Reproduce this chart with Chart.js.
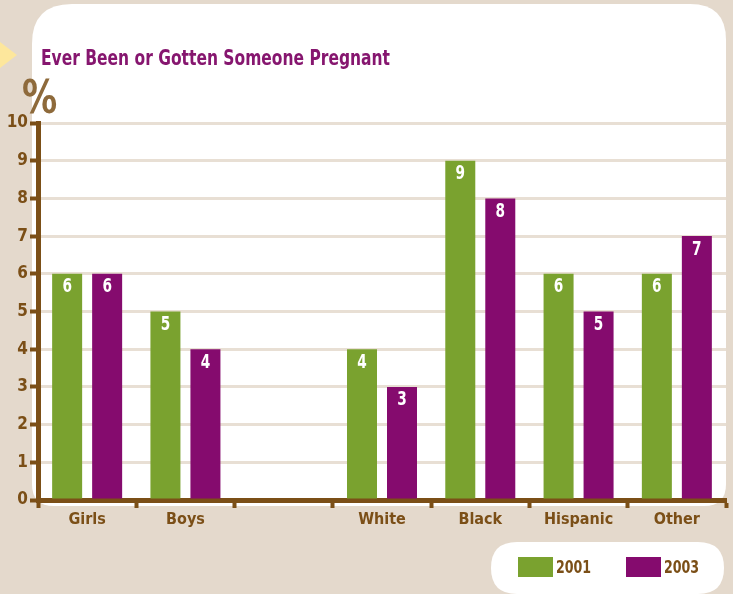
<!DOCTYPE html>
<html>
<head>
<meta charset="utf-8">
<script src="https://cdn.jsdelivr.net/npm/chart.js@4/dist/chart.umd.min.js"></script>
<style>
  html, body { margin: 0; padding: 0; background: #e4d9cc; }
  #wrap { width: 733px; height: 594px; position: relative; }
</style>
</head>
<body>
<div id="wrap"><canvas id="c" width="733" height="594"></canvas></div>
<script>
// Survey groups and percentages for each year
const categories = ['Girls', 'Boys', '', 'White', 'Black', 'Hispanic', 'Other'];
const values2001 = [6, 5, null, 4, 9, 6, 6];
const values2003 = [6, 4, null, 3, 8, 5, 7];
const seriesLabels = ['2001', '2003'];
const titleText = 'Ever Been or Gotten Someone Pregnant';
const unitText = '%';

const FONT = '"DejaVu Sans Condensed", "DejaVu Sans", sans-serif';
const BROWN = '#7b4f17';
const GREEN = '#7aa22f';
const PURPLE = '#850b6e';
const BEIGE = '#e4d9cc';
const GRID = '#e8dfd4';

function roundRect(ctx, x, y, w, h, r) {
  ctx.beginPath();
  ctx.moveTo(x + r.tl, y);
  ctx.lineTo(x + w - r.tr, y);
  ctx.quadraticCurveTo(x + w, y, x + w, y + r.tr);
  ctx.lineTo(x + w, y + h - r.br);
  ctx.quadraticCurveTo(x + w, y + h, x + w - r.br, y + h);
  ctx.lineTo(x + r.bl, y + h);
  ctx.quadraticCurveTo(x, y + h, x, y + h - r.bl);
  ctx.lineTo(x, y + r.tl);
  ctx.quadraticCurveTo(x, y, x + r.tl, y);
  ctx.closePath();
}

// Text drawn horizontally squeezed, to get a narrow display face
function narrowText(ctx, text, x, y, squeeze, align) {
  ctx.save();
  ctx.translate(x, y);
  ctx.scale(squeeze, 1);
  ctx.textAlign = align || 'left';
  ctx.fillText(text, 0, 0);
  ctx.restore();
}

// Page decoration: beige backdrop, white card, marker arrow, title and unit
const backdrop = {
  id: 'backdrop',
  beforeDraw(chart) {
    const ctx = chart.ctx;
    ctx.save();
    ctx.fillStyle = BEIGE;
    ctx.fillRect(0, 0, chart.width, chart.height);
    ctx.fillStyle = '#ffffff';
    roundRect(ctx, 32, 4, 694, 502, { tl: 40, tr: 36, br: 22, bl: 22 });
    ctx.fill();
    // marker arrow
    ctx.fillStyle = '#fde79c';
    ctx.beginPath();
    ctx.moveTo(0, 42);
    ctx.lineTo(17, 55);
    ctx.lineTo(0, 68);
    ctx.closePath();
    ctx.fill();
    // title
    ctx.fillStyle = '#86166f';
    ctx.font = 'bold 22px ' + FONT;
    ctx.textBaseline = 'alphabetic';
    const tw = ctx.measureText(titleText).width;
    narrowText(ctx, titleText, 41, 65, 349 / tw);
    // unit
    ctx.fillStyle = '#8e6a3b';
    ctx.font = 'bold 46px ' + FONT;
    narrowText(ctx, unitText, 22, 113, 0.85);
    ctx.restore();
  }
};

// White value labels near the top of each bar
const barValues = {
  id: 'barValues',
  afterDatasetsDraw(chart) {
    const ctx = chart.ctx;
    ctx.save();
    ctx.fillStyle = '#ffffff';
    ctx.font = 'bold 19px ' + FONT;
    ctx.textBaseline = 'top';
    chart.data.datasets.forEach((ds, i) => {
      chart.getDatasetMeta(i).data.forEach((bar, j) => {
        const v = ds.data[j];
        if (v === null || v === undefined) return;
        narrowText(ctx, String(v), bar.x, bar.y + 4, 0.8, 'center');
      });
    });
    ctx.restore();
  }
};

// Legend inside a white pill below the chart
const pillLegend = {
  id: 'pillLegend',
  afterDraw(chart) {
    const ctx = chart.ctx;
    ctx.save();
    ctx.fillStyle = '#ffffff';
    roundRect(ctx, 491, 542, 233, 52, { tl: 26, tr: 26, br: 26, bl: 26 });
    ctx.fill();
    ctx.font = 'bold 18px ' + FONT;
    ctx.textBaseline = 'middle';
    const starts = [518, 626];
    chart.data.datasets.forEach((ds, i) => {
      const x = starts[i];
      ctx.fillStyle = ds.backgroundColor;
      ctx.fillRect(x, 557, 35, 20);
      ctx.fillStyle = BROWN;
      narrowText(ctx, ds.label, x + 38, 568, 0.78);
    });
    ctx.restore();
  }
};

new Chart(document.getElementById('c'), {
  type: 'bar',
  data: {
    labels: categories,
    datasets: [
      { label: seriesLabels[0], data: values2001, backgroundColor: GREEN },
      { label: seriesLabels[1], data: values2003, backgroundColor: PURPLE }
    ]
  },
  options: {
    responsive: false,
    animation: false,
    devicePixelRatio: 1,
    categoryPercentage: 0.814,
    barPercentage: 0.75,
    layout: { padding: { top: 123, right: 7, bottom: 0, left: 0 } },
    plugins: {
      legend: { display: false },
      tooltip: { enabled: false },
      title: { display: false }
    },
    scales: {
      x: {
        grid: {
          drawOnChartArea: false,
          drawTicks: true,
          tickLength: 8,
          tickColor: BROWN,
          tickWidth: 4,
          offset: true
        },
        border: { display: true, color: BROWN, width: 5 },
        ticks: {
          color: BROWN,
          font: { family: FONT, size: 16, weight: 'bold' },
          padding: 2,
          maxRotation: 0
        },
        afterFit(scale) { scale.height = 94; }
      },
      y: {
        min: 0,
        max: 10,
        ticks: {
          stepSize: 1,
          color: BROWN,
          font: { family: FONT, size: 17, weight: 'bold' },
          padding: 2
        },
        grid: {
          color: GRID,
          lineWidth: 3,
          drawTicks: true,
          tickLength: 8,
          tickColor: BROWN,
          tickWidth: 4
        },
        border: { display: true, color: BROWN, width: 5 },
        afterFit(scale) { scale.width = 38; }
      }
    }
  },
  plugins: [backdrop, barValues, pillLegend]
});
</script>
</body>
</html>
